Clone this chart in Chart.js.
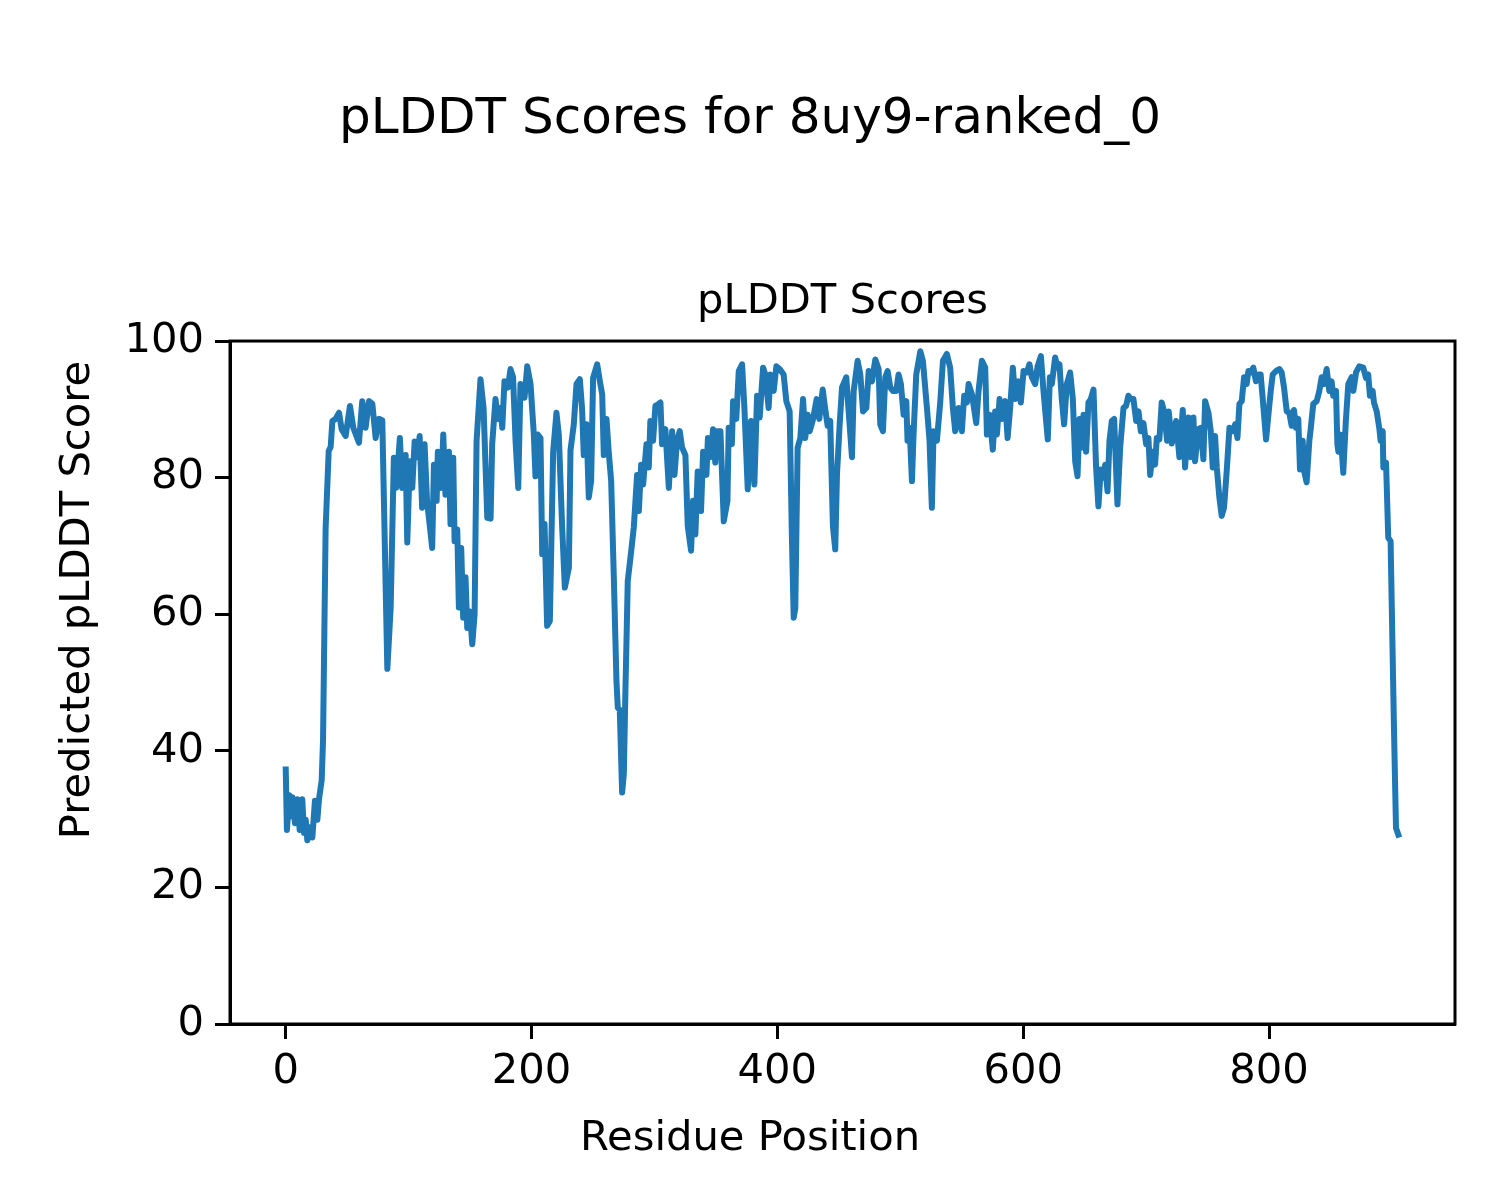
<!DOCTYPE html>
<html>
<head>
<meta charset="utf-8">
<title>pLDDT Scores for 8uy9-ranked_0</title>
<script src="https://cdn.jsdelivr.net/npm/chart.js@4.4.1/dist/chart.umd.min.js"></script>
<style>
  html, body { margin: 0; padding: 0; background: #fff; }
  #wrap { width: 1500px; height: 1200px; }
</style>
</head>
<body>
<div id="wrap"><canvas id="plddt" width="1500" height="1200"></canvas></div>
<script>
// residue positions (x) and pLDDT scores (y)
var residues = [
  0, 1, 3, 4, 5.5, 7.6, 9.5, 11.4, 13.5, 14.9,
  16.3, 17.6, 19.8, 21.7, 23.8, 25.8, 27.1, 29.3, 30.4, 31.5,
  32.5, 35, 36.6, 38, 40.6, 43.4, 45.5, 48.8, 52.3, 55,
  59.6, 62.3, 65, 67.8, 70.5, 73.2, 75.9, 78.6, 82.7, 85.4,
  88, 89.9, 92.9, 94.8, 97.6, 98.9, 101, 103, 104.9, 107,
  109, 111, 113, 115, 119.2, 120.6, 122.8, 123.8, 126.6, 128.2,
  130, 132.8, 134.1, 136.3, 137.4, 139.6, 140.9, 142.8, 144.4, 146.3,
  147.7, 149.9, 151.8, 153.7, 155.3, 158.5, 161, 164, 166.7, 168,
  170.7, 172.6, 174.8, 176.2, 178, 180.8, 182.9, 185, 187, 189.2,
  191, 194.3, 196.5, 199.2, 201.9, 203.2, 205.1, 207.3, 208.7, 210.6,
  212.7, 214.9, 217.6, 220.3, 222.2, 224.9, 227.1, 230.4, 231.7, 234.4,
  236.6, 239.3, 241.1, 242.5, 244.7, 246.6, 248.5, 250.1, 253.4, 255.6,
  257.5, 258.8, 261, 262.8, 264.8, 266.9, 269.1, 270.2, 271.8, 273.7,
  275.1, 276.4, 278.3, 280.5, 283.2, 285.9, 287.3, 289.2, 290.8, 293.5,
  295.4, 296.7, 298.9, 300.8, 302.7, 304.9, 306.2, 308.9, 311.7, 314.4,
  316.3, 318.4, 320.6, 322.5, 325.2, 327.1, 329.8, 331.4, 333.3, 335.2,
  337.9, 339.6, 342.3, 343.5, 345.7, 347.7, 349.5, 350.7, 353.7, 356.4,
  359.4, 360.4, 363, 364, 366.6, 368.6, 371.3, 373.2, 375.9, 378.6,
  381.3, 383.5, 385.6, 388.4, 390.2, 392.9, 394.3, 397, 399.2, 401.9,
  405.1, 407.3, 410, 411.9, 413.3, 414.6, 416.5, 418.7, 420.9, 422.7,
  424.7, 426.3, 428.7, 432, 434.1, 436.9, 438.8, 440.9, 443, 445.2,
  447.1, 448.5, 450.7, 452.6, 456.1, 458, 460.7, 462.1, 465.3, 467.5,
  469.7, 472.4, 474.3, 477, 479.7, 482.4, 483.7, 485.9, 487.8, 489.7,
  491.9, 494, 496.7, 498.6, 500.5, 502.7, 504.9, 505.9, 507.6, 509.5,
  510.8, 513, 516.3, 518.4, 521.7, 523.8, 525.7, 527.1, 529.8, 532.5,
  534.7, 537.9, 540.6, 542.8, 544.7, 547.4, 550.1, 552, 554.2, 555.6,
  558.3, 561.8, 563.7, 566.4, 569.1, 570.5, 572.6, 575.3, 577.2, 578.6,
  580.8, 582.7, 585.4, 587.3, 589.4, 591.6, 593.5, 596.2, 598.1, 600.3,
  603, 605.1, 607, 609.8, 611.7, 614.4, 616.5, 620, 621.7, 623.3,
  626, 627.9, 629.5, 631.4, 633.3, 635.5, 638.2, 640.4, 642.3, 644.2,
  645.8, 647.7, 649.1, 651.2, 653.1, 655, 657.2, 659.3, 661.2, 663.1,
  665.3, 666.7, 668.6, 670.2, 672.1, 674, 676.7, 678.9, 681.6, 683.7,
  685.6, 687.5, 689.7, 691.9, 693.8, 695.7, 697.8, 700, 701.9, 703.3,
  705.4, 707.3, 708.7, 710.8, 712.7, 714.6, 717.1, 718.4, 720.9, 724.4,
  727.1, 729.8, 731.7, 734.4, 736.3, 738.5, 739.8, 742.5, 744.4, 746.6,
  748, 750.7, 752.6, 754.2, 756.1, 757.5, 759.6, 761.5, 763.4, 765.6,
  767.8, 770.5, 772.4, 774.3, 775.9, 777.8, 779.7, 781.8, 783.2, 785,
  787.2, 789.4, 791.3, 793.2, 794.9, 797.6, 799.5, 801.4, 803, 805.7,
  808.4, 810.3, 812.2, 814.4, 816.5, 818.4, 820.3, 821.9, 823.8, 825.2,
  827.4, 828.5, 830.6, 832.8, 833.9, 836, 838.8, 840.9, 842.8, 844.7,
  846.9, 849, 850.9, 852.2, 854.5, 855.6, 856.4, 858.3, 860.4, 862.5,
  864.5, 867.2, 868.6, 870.8, 873.4, 876.7, 878.9, 880.7, 882.1, 884.3,
  885.4, 887.6, 889.8, 890.8, 892.5, 893, 895.2, 897, 898.9, 901.6,
  902.4, 903.3, 906
];

var scores = [
  37.7, 28.4, 33.5, 30.4, 33.2, 29.4, 32.9, 28.4, 32.9, 28.0,
  29.9, 26.9, 28.8, 27.3, 32.7, 29.9, 32.9, 35.7, 41.6, 58.0,
  72.6, 83.9, 84.5, 88.3, 88.6, 89.5, 87.1, 86.1, 90.5, 87.3,
  85.1, 91.2, 87.3, 91.2, 90.8, 85.8, 88.6, 88.4, 52.0, 60.9,
  82.9, 78.5, 85.8, 78.5, 83.3, 70.5, 82.4, 78.5, 85.3, 83.0,
  86.1, 75.6, 84.9, 76.6, 69.7, 81.9, 76.6, 83.8, 78.5, 86.3,
  77.5, 83.8, 73.2, 82.9, 70.7, 72.4, 61.0, 69.7, 59.5, 65.4,
  58.0, 60.4, 55.6, 60.0, 85.4, 94.4, 90.2, 74.1, 74.0, 84.9,
  91.5, 88.6, 90.2, 87.3, 94.1, 93.2, 95.9, 94.7, 85.4, 78.5,
  93.7, 91.7, 96.3, 93.7, 86.3, 80.2, 86.3, 85.8, 68.8, 73.2,
  58.3, 59.0, 83.8, 89.5, 86.3, 72.9, 63.9, 66.8, 84.0, 87.8,
  93.7, 94.4, 90.2, 83.3, 87.8, 77.1, 79.5, 94.6, 96.6, 94.1,
  92.2, 83.3, 88.6, 83.8, 79.5, 65.8, 50.2, 46.3, 46.0, 33.9,
  36.6, 48.8, 64.9, 68.3, 72.7, 80.4, 75.1, 81.9, 79.0, 84.9,
  81.5, 88.3, 85.4, 90.5, 90.7, 91.0, 84.9, 87.1, 78.5, 86.8,
  80.4, 85.4, 86.8, 84.4, 83.3, 72.9, 69.3, 76.6, 71.7, 80.9,
  75.1, 83.8, 80.4, 85.8, 83.0, 87.1, 82.2, 86.8, 86.8, 73.6,
  76.6, 87.3, 84.9, 91.2, 88.6, 95.6, 96.6, 90.2, 78.3, 88.3,
  79.0, 92.0, 88.8, 96.1, 95.1, 90.2, 95.1, 92.7, 96.3, 95.9,
  95.1, 91.2, 89.7, 70.7, 59.5, 60.9, 84.4, 85.8, 91.5, 85.8,
  89.2, 86.8, 88.3, 91.5, 88.6, 92.9, 90.2, 87.6, 88.3, 72.9,
  69.5, 80.4, 87.8, 93.2, 94.7, 89.7, 83.0, 92.7, 97.1, 95.1,
  89.7, 90.2, 95.6, 94.1, 97.3, 95.9, 87.8, 86.8, 94.7, 95.6,
  93.2, 92.7, 92.7, 95.1, 93.7, 89.2, 91.2, 85.4, 87.3, 79.5,
  86.3, 95.1, 98.5, 97.1, 90.2, 85.4, 75.6, 86.8, 85.4, 91.0,
  97.1, 98.1, 96.1, 90.2, 86.8, 90.2, 86.8, 92.0, 91.0, 93.7,
  92.2, 88.0, 92.7, 97.1, 96.1, 86.3, 89.2, 84.1, 89.7, 86.3,
  91.5, 88.6, 91.2, 85.8, 90.2, 96.1, 91.5, 94.1, 91.0, 95.6,
  95.4, 96.6, 94.7, 93.7, 96.3, 97.8, 92.7, 85.6, 94.7, 93.7,
  97.6, 96.1, 96.6, 91.5, 87.8, 93.7, 95.4, 91.5, 82.4, 80.2,
  88.6, 84.4, 89.2, 83.8, 91.0, 91.5, 92.9, 81.5, 75.8, 81.2,
  80.0, 81.9, 78.0, 85.4, 88.3, 88.6, 76.1, 84.4, 90.2, 90.5,
  92.0, 91.5, 91.5, 88.3, 89.7, 86.8, 88.0, 84.9, 85.8, 80.4,
  83.8, 81.9, 85.8, 85.6, 91.0, 89.7, 85.4, 89.7, 85.0, 88.3,
  83.0, 89.9, 81.5, 88.8, 83.0, 88.8, 82.4, 87.1, 87.3, 82.7,
  91.2, 89.5, 86.8, 81.5, 86.1, 81.5, 77.1, 74.4, 75.6, 81.0,
  87.3, 86.8, 87.8, 85.8, 90.8, 91.2, 94.7, 93.7, 95.6, 95.4,
  96.1, 94.1, 95.1, 95.1, 91.5, 85.6, 89.2, 92.7, 95.1, 95.6,
  95.9, 95.4, 93.2, 89.7, 89.5, 87.6, 89.9, 87.3, 88.6, 81.2,
  85.4, 81.0, 79.3, 85.4, 87.1, 90.8, 91.2, 92.7, 94.7, 93.7,
  95.9, 92.7, 94.1, 92.0, 92.7, 84.9, 83.8, 86.3, 80.7, 88.3,
  93.7, 94.7, 92.7, 95.4, 96.3, 96.1, 94.6, 95.1, 92.0, 92.7,
  91.0, 89.7, 87.1, 85.4, 86.8, 81.5, 82.2, 71.2, 70.7, 43.9,
  36.6, 28.7, 27.3
];

var xTicks = [0, 200, 400, 600, 800];
var yTicks = [0, 20, 40, 60, 80, 100];

var FONT = "'DejaVu Sans', 'Liberation Sans', sans-serif";
Chart.defaults.font.family = FONT;
Chart.defaults.color = '#000';

// axes frame (top/right spines too) and figure-level axis labels
var frame = {
    id: 'frame',
    afterDraw: function (chart) {
        var ctx = chart.ctx, a = chart.chartArea;
        ctx.save();
        ctx.strokeStyle = '#000';
        ctx.lineWidth = 3;
        ctx.strokeRect(a.left, a.top, a.right - a.left, a.bottom - a.top);

        ctx.fillStyle = '#000';
        ctx.font = '41.7px ' + FONT;
        ctx.textAlign = 'center';
        ctx.textBaseline = 'middle';
        ctx.fillText('Residue Position', 750, 1139);

        ctx.translate(78, 600);
        ctx.rotate(-Math.PI / 2);
        ctx.fillText('Predicted pLDDT Score', 0, 0);
        ctx.restore();
    }
};

var points = residues.map(function (r, i) { return { x: r, y: scores[i] }; });

var chart = new Chart(document.getElementById('plddt'), {
    type: 'line',
    data: {
        datasets: [{
            label: 'pLDDT',
            data: points,
            borderColor: '#1f77b4',
            borderWidth: 6,
            borderJoinStyle: 'round',
            borderCapStyle: 'butt',
            pointRadius: 0,
            tension: 0,
            fill: false
        }]
    },
    options: {
        responsive: false,
        animation: false,
        devicePixelRatio: 1,
        layout: { padding: { left: 45, right: 45, top: 0, bottom: 0 } },
        plugins: {
            legend: { display: false },
            tooltip: { enabled: false },
            title: {
                display: true,
                text: 'pLDDT Scores for 8uy9-ranked_0',
                font: { size: 50, weight: 'normal' },
                color: '#000',
                padding: { top: 90, bottom: 127 }
            },
            subtitle: {
                display: true,
                text: 'pLDDT Scores',
                fullSize: false,
                font: { size: 41.7, weight: 'normal' },
                color: '#000',
                padding: { top: 0, bottom: 14 }
            }
        },
        scales: {
            x: {
                type: 'linear',
                min: -45.3,
                max: 951.3,
                afterBuildTicks: function (s) { s.ticks = xTicks.map(function (v) { return { value: v }; }); },
                afterFit: function (s) { s.height = 176; },
                grid: { drawOnChartArea: false, drawTicks: true, tickLength: 15, tickWidth: 3, tickColor: '#000' },
                border: { display: true, color: '#000', width: 3 },
                ticks: { font: { size: 41.7 }, color: '#000', padding: 8, maxRotation: 0 }
            },
            y: {
                type: 'linear',
                min: 0,
                max: 100,
                afterBuildTicks: function (s) { s.ticks = yTicks.map(function (v) { return { value: v }; }); },
                afterFit: function (s) { s.width = 185; },
                grid: { drawOnChartArea: false, drawTicks: true, tickLength: 15, tickWidth: 3, tickColor: '#000' },
                border: { display: true, color: '#000', width: 3 },
                ticks: { font: { size: 41.7 }, color: '#000', padding: 11 }
            }
        }
    },
    plugins: [frame]
});
</script>
</body>
</html>
